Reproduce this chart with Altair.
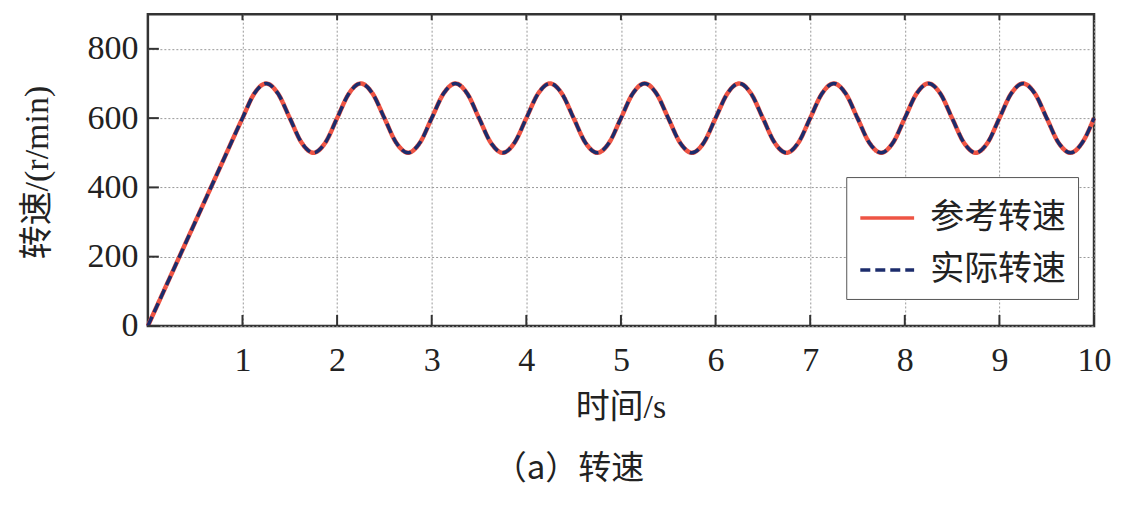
import altair as alt
import pandas as pd

# time samples (s)
ramp_t = [0.0, 0.25, 0.5, 0.75]
wave_t = [1 + k * 0.125 for k in range(73)]
times = ramp_t + wave_t

# reference speed (r/min)
ref_speed = [0, 150, 300, 450,
             600, 671, 700, 671, 600, 529, 500, 529,
             600, 671, 700, 671, 600, 529, 500, 529,
             600, 671, 700, 671, 600, 529, 500, 529,
             600, 671, 700, 671, 600, 529, 500, 529,
             600, 671, 700, 671, 600, 529, 500, 529,
             600, 671, 700, 671, 600, 529, 500, 529,
             600, 671, 700, 671, 600, 529, 500, 529,
             600, 671, 700, 671, 600, 529, 500, 529,
             600, 671, 700, 671, 600, 529, 500, 529,
             600]
# actual speed coincides with the reference in the picture
act_speed = [0, 150, 300, 450,
             600, 671, 700, 671, 600, 529, 500, 529,
             600, 671, 700, 671, 600, 529, 500, 529,
             600, 671, 700, 671, 600, 529, 500, 529,
             600, 671, 700, 671, 600, 529, 500, 529,
             600, 671, 700, 671, 600, 529, 500, 529,
             600, 671, 700, 671, 600, 529, 500, 529,
             600, 671, 700, 671, 600, 529, 500, 529,
             600, 671, 700, 671, 600, 529, 500, 529,
             600, 671, 700, 671, 600, 529, 500, 529,
             600]

series_names = ["参考转速", "实际转速"]
series_colors = ["#ee5444", "#1c2c6c"]
x_ticks = [1, 2, 3, 4, 5, 6, 7, 8, 9, 10]
y_ticks = [0, 200, 400, 600, 800]

W, H = 947, 312
FONT = "Liberation Serif, Noto Sans CJK SC"

df_ref = pd.DataFrame({"t": times, "v": ref_speed, "s": series_names[0]})
df_act = pd.DataFrame({"t": times, "v": act_speed, "s": series_names[1]})
df_xt = pd.DataFrame({"t": x_ticks})
df_yt = pd.DataFrame({"v": y_ticks})

xscale = alt.Scale(domain=[0, 10], nice=False, zero=False)
yscale = alt.Scale(domain=[0, 900], nice=False)

xaxis = alt.Axis(values=x_ticks, format="d", title="时间/s", ticks=False, domain=False,
                 labelPadding=18, labelFontSize=34, titleFontSize=34,
                 titleX=473, titleY=82, titleBaseline="middle", titleFontWeight="normal",
                 grid=True, gridDash=[2, 2], gridColor="#999999", labelFlush=False)
yaxis = alt.Axis(values=y_ticks, format="d", title="转速/(r/min)", ticks=False, domain=False,
                 labelPadding=10, labelFontSize=34, titleFontSize=34,
                 titleX=-110, titleY=158, titleAngle=-90, titleAlign="center",
                 titleBaseline="middle", titleFontWeight="normal",
                 grid=True, gridDash=[2, 2], gridColor="#999999")

color = alt.Color("s:N", scale=alt.Scale(domain=series_names, range=series_colors), title=None)
dash = alt.StrokeDash("s:N", scale=alt.Scale(domain=series_names, range=[[1, 0], [10, 5]]), title=None)

line_ref = alt.Chart(df_ref).mark_line(strokeWidth=4.5, interpolate="monotone").encode(
    x=alt.X("t:Q", scale=xscale, axis=xaxis),
    y=alt.Y("v:Q", scale=yscale, axis=yaxis),
    color=color, strokeDash=dash)
line_act = alt.Chart(df_act).mark_line(strokeWidth=3.5, interpolate="monotone").encode(
    x="t:Q", y="v:Q", color=color, strokeDash=dash)

tick_bottom = alt.Chart(df_xt).mark_rule(color="#333333", strokeWidth=2).encode(
    x="t:Q", y=alt.value(H), y2=alt.value(H - 11))
tick_top = alt.Chart(df_xt).mark_rule(color="#333333", strokeWidth=2).encode(
    x="t:Q", y=alt.value(0), y2=alt.value(6))
tick_left = alt.Chart(df_yt).mark_rule(color="#333333", strokeWidth=2).encode(
    y="v:Q", x=alt.value(0), x2=alt.value(11))

chart = alt.layer(line_ref, line_act, tick_bottom, tick_top, tick_left).properties(
    width=W, height=H,
    autosize=alt.AutoSizeParams(type="none"),
    padding={"left": 140, "top": 6, "right": 30, "bottom": 170},
    title=alt.TitleParams("（a）转速", orient="bottom", anchor="middle", dx=-52,
                          offset=28, fontSize=33, fontWeight="normal",
                          font="Noto Sans CJK SC, Liberation Serif",
                          color="#222222"),
).configure_view(stroke="#333333", strokeWidth=2.5).configure_axis(
    labelFont=FONT, titleFont=FONT, labelColor="#222222", titleColor="#222222"
).configure_legend(
    orient="none", legendX=699, legendY=163, fillColor="white", strokeColor="#555555",
    padding=12, labelFont=FONT, labelFontSize=34, labelColor="#222222",
    symbolType="stroke", symbolSize=2900, symbolStrokeWidth=3.5, labelOffset=14,
    rowPadding=6, cornerRadius=0
)

chart.save("out.html", embed_options={"renderer": "svg", "actions": False})
